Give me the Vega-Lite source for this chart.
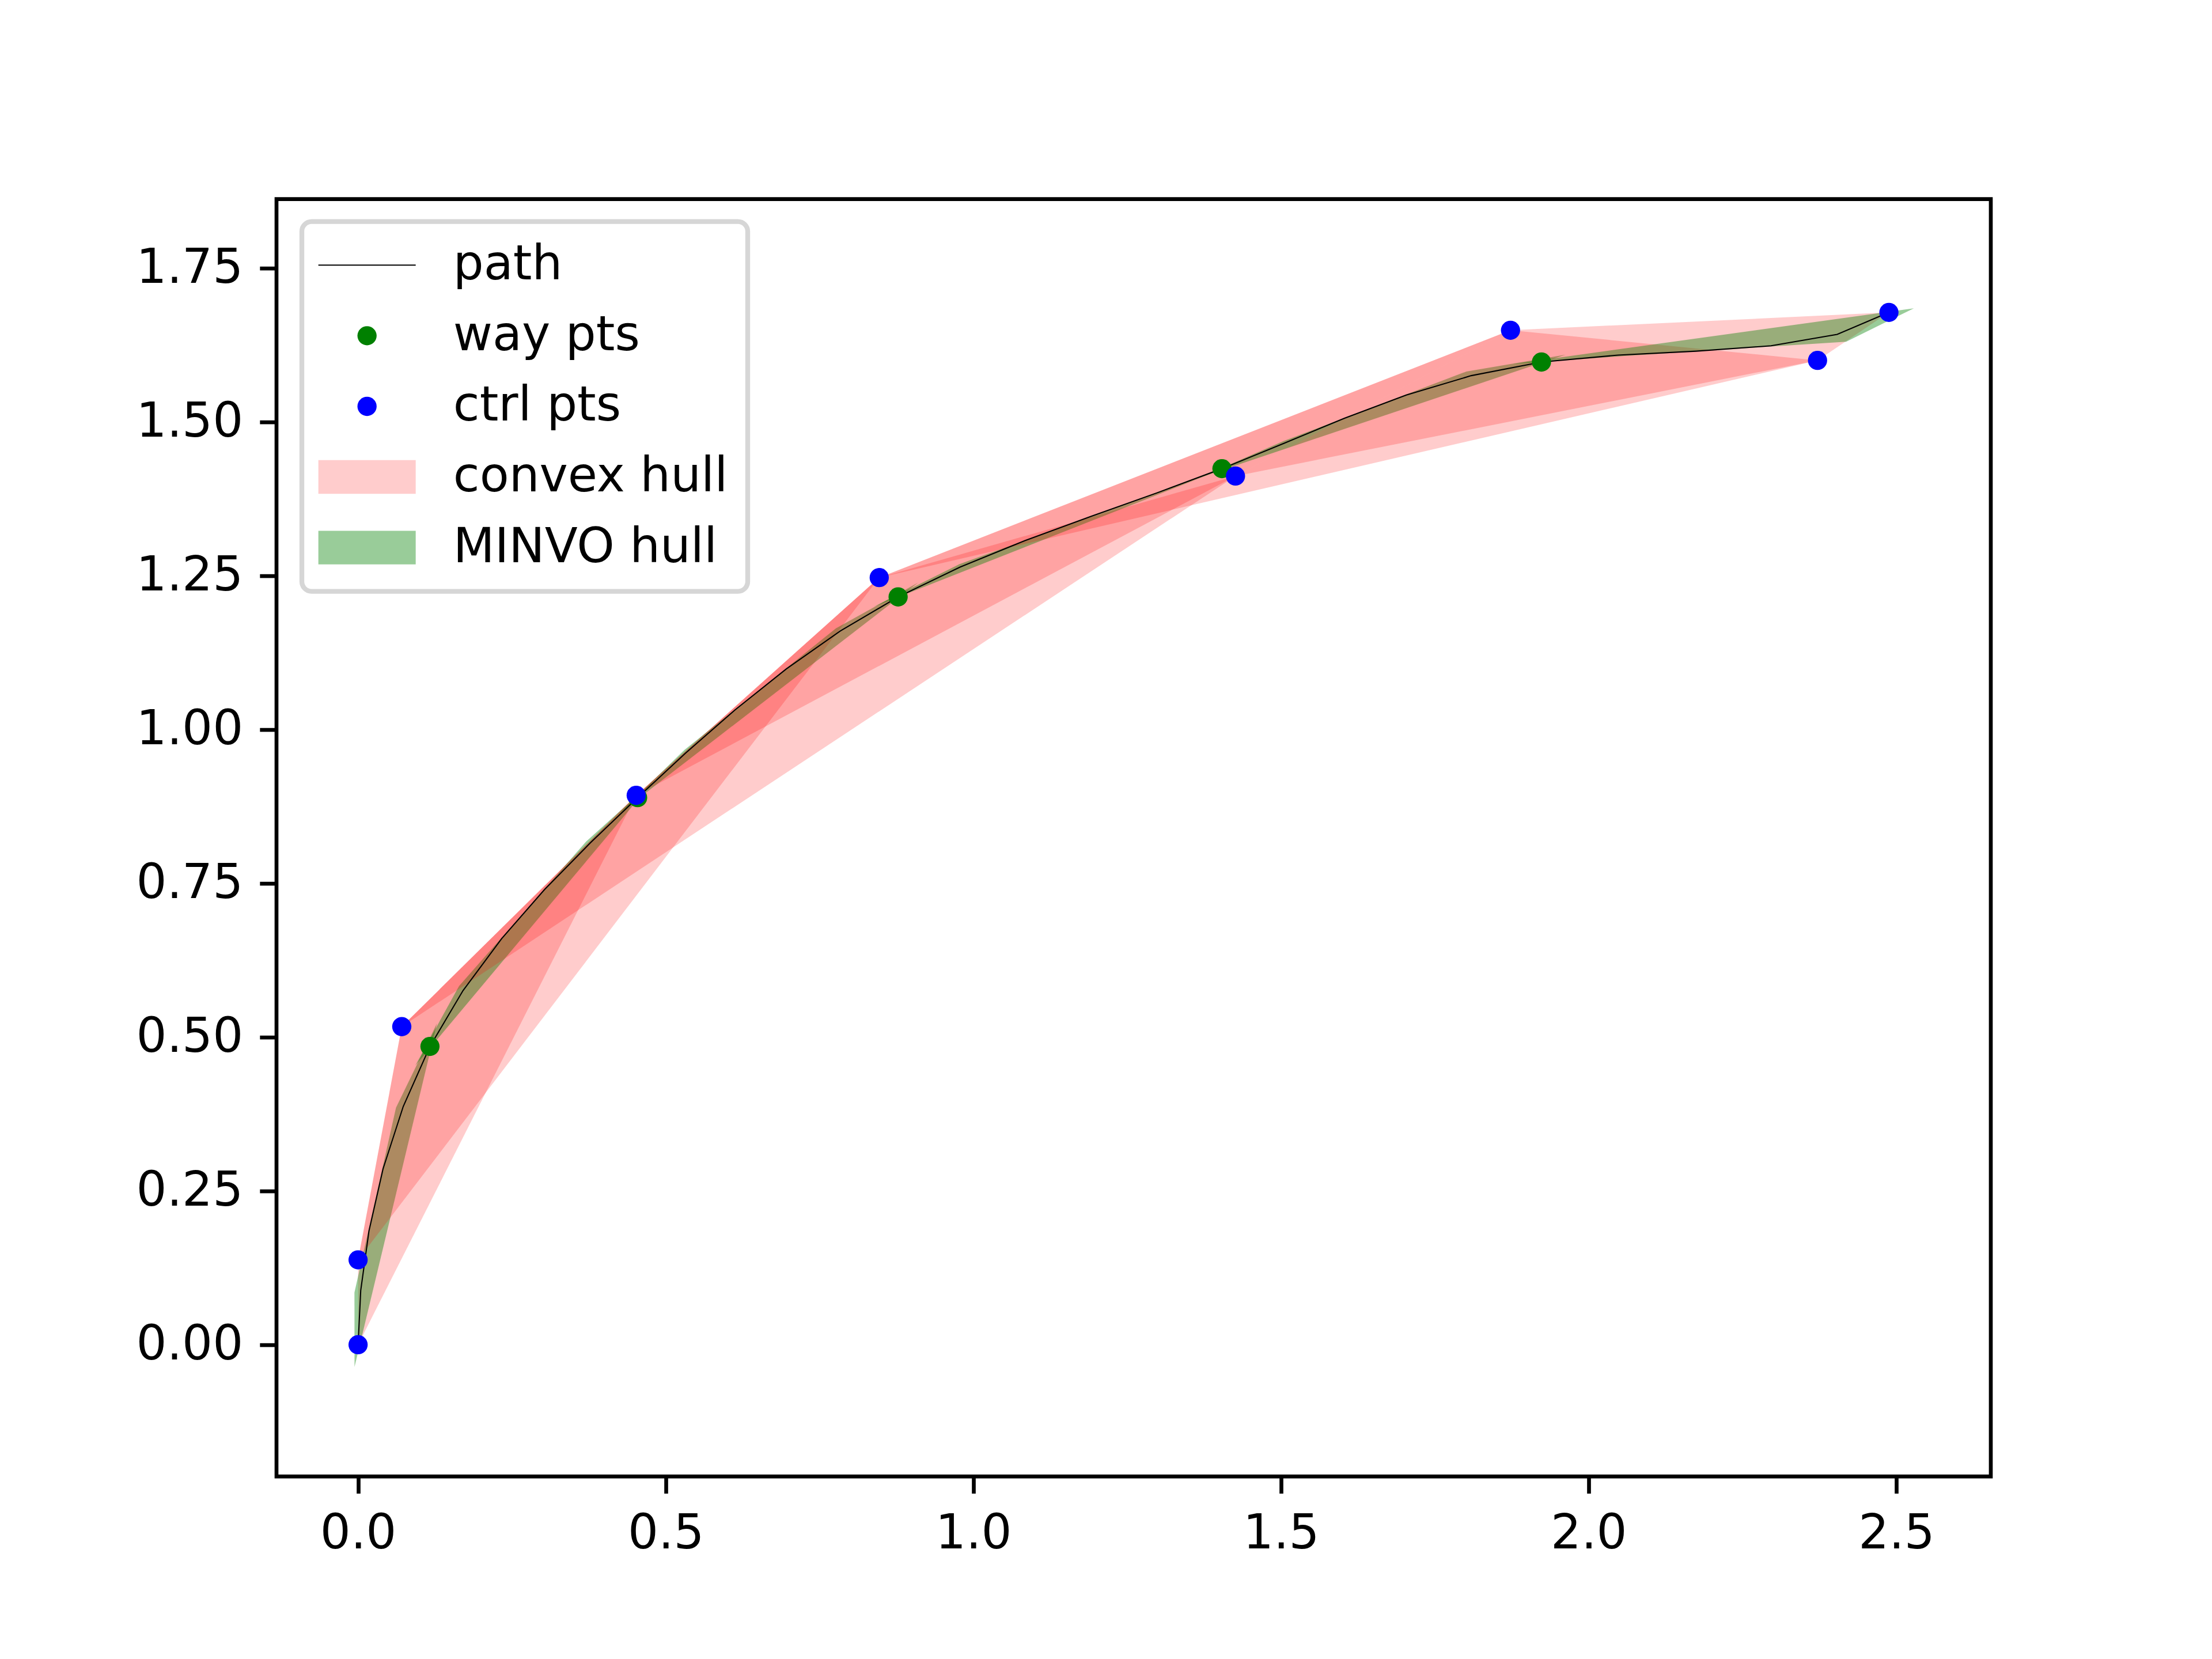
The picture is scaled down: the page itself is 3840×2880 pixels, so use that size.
{
  "$schema": "https://vega.github.io/schema/vega-lite/v6.json",
  "width": 2976,
  "height": 2217.6,
  "autosize": {"type": "none"},
  "padding": {"left": 480, "top": 345.6, "right": 384, "bottom": 316.8},
  "background": "white",
  "datasets": {
    "hulls": [
      {"poly": "01c", "kind": "convex", "i": 0, "x": 0, "y": 0},
      {"poly": "01c", "kind": "convex", "i": 1, "x": 0, "y": 0.138},
      {"poly": "01c", "kind": "convex", "i": 2, "x": 0.071, "y": 0.517},
      {"poly": "01c", "kind": "convex", "i": 3, "x": 0.452, "y": 0.893},
      {"poly": "01m", "kind": "minvo", "i": 0, "x": -0.0058, "y": -0.0362},
      {"poly": "01m", "kind": "minvo", "i": 1, "x": -0.0059, "y": 0.085},
      {"poly": "01m", "kind": "minvo", "i": 2, "x": 0.0616, "y": 0.3853},
      {"poly": "01m", "kind": "minvo", "i": 3, "x": 0.1282, "y": 0.5224},
      {"poly": "02c", "kind": "convex", "i": 0, "x": 0, "y": 0.138},
      {"poly": "02c", "kind": "convex", "i": 1, "x": 0.071, "y": 0.517},
      {"poly": "02c", "kind": "convex", "i": 2, "x": 0.452, "y": 0.893},
      {"poly": "02c", "kind": "convex", "i": 3, "x": 0.847, "y": 1.247},
      {"poly": "02m", "kind": "minvo", "i": 0, "x": 0.0929, "y": 0.4537},
      {"poly": "02m", "kind": "minvo", "i": 1, "x": 0.1641, "y": 0.5831},
      {"poly": "02m", "kind": "minvo", "i": 2, "x": 0.3708, "y": 0.818},
      {"poly": "02m", "kind": "minvo", "i": 3, "x": 0.4816, "y": 0.9181},
      {"poly": "03c", "kind": "convex", "i": 0, "x": 0.071, "y": 0.517},
      {"poly": "03c", "kind": "convex", "i": 1, "x": 0.452, "y": 0.893},
      {"poly": "03c", "kind": "convex", "i": 2, "x": 0.847, "y": 1.247},
      {"poly": "03c", "kind": "convex", "i": 3, "x": 1.426, "y": 1.412},
      {"poly": "03m", "kind": "minvo", "i": 0, "x": 0.4241, "y": 0.8635},
      {"poly": "03m", "kind": "minvo", "i": 1, "x": 0.5305, "y": 0.9669},
      {"poly": "03m", "kind": "minvo", "i": 2, "x": 0.7767, "y": 1.1644},
      {"poly": "03m", "kind": "minvo", "i": 3, "x": 0.9102, "y": 1.2388},
      {"poly": "04c", "kind": "convex", "i": 0, "x": 0.452, "y": 0.893},
      {"poly": "04c", "kind": "convex", "i": 1, "x": 1.426, "y": 1.412},
      {"poly": "04c", "kind": "convex", "i": 2, "x": 1.873, "y": 1.649},
      {"poly": "04c", "kind": "convex", "i": 3, "x": 0.847, "y": 1.247},
      {"poly": "04m", "kind": "minvo", "i": 0, "x": 0.8383, "y": 1.1996},
      {"poly": "04m", "kind": "minvo", "i": 1, "x": 0.9776, "y": 1.2688},
      {"poly": "04m", "kind": "minvo", "i": 2, "x": 1.2975, "y": 1.3854},
      {"poly": "04m", "kind": "minvo", "i": 3, "x": 1.444, "y": 1.4386},
      {"poly": "05c", "kind": "convex", "i": 0, "x": 0.847, "y": 1.247},
      {"poly": "05c", "kind": "convex", "i": 1, "x": 2.372, "y": 1.6},
      {"poly": "05c", "kind": "convex", "i": 2, "x": 1.873, "y": 1.649},
      {"poly": "05m", "kind": "minvo", "i": 0, "x": 1.3667, "y": 1.4092},
      {"poly": "05m", "kind": "minvo", "i": 1, "x": 1.505, "y": 1.4692},
      {"poly": "05m", "kind": "minvo", "i": 2, "x": 1.8011, "y": 1.5818},
      {"poly": "05m", "kind": "minvo", "i": 3, "x": 1.9625, "y": 1.6093},
      {"poly": "06c", "kind": "convex", "i": 0, "x": 1.426, "y": 1.412},
      {"poly": "06c", "kind": "convex", "i": 1, "x": 2.372, "y": 1.6},
      {"poly": "06c", "kind": "convex", "i": 2, "x": 2.488, "y": 1.678},
      {"poly": "06c", "kind": "convex", "i": 3, "x": 1.873, "y": 1.649},
      {"poly": "06m", "kind": "minvo", "i": 0, "x": 1.8768, "y": 1.5941},
      {"poly": "06m", "kind": "minvo", "i": 1, "x": 2.0552, "y": 1.6068},
      {"poly": "06m", "kind": "minvo", "i": 2, "x": 2.4185, "y": 1.6304},
      {"poly": "06m", "kind": "minvo", "i": 3, "x": 2.5286, "y": 1.6847}
    ],
    "path": [
      {"i": 0, "x": 0, "y": 0},
      {"i": 1, "x": 0.0043, "y": 0.0883},
      {"i": 2, "x": 0.0177, "y": 0.185},
      {"i": 3, "x": 0.0406, "y": 0.286},
      {"i": 4, "x": 0.0734, "y": 0.3873},
      {"i": 5, "x": 0.1168, "y": 0.4849},
      {"i": 6, "x": 0.1706, "y": 0.5757},
      {"i": 7, "x": 0.2334, "y": 0.6602},
      {"i": 8, "x": 0.303, "y": 0.7398},
      {"i": 9, "x": 0.3774, "y": 0.8157},
      {"i": 10, "x": 0.4543, "y": 0.8893},
      {"i": 11, "x": 0.5324, "y": 0.9617},
      {"i": 12, "x": 0.6125, "y": 1.0318},
      {"i": 13, "x": 0.6958, "y": 1.0984},
      {"i": 14, "x": 0.7837, "y": 1.1601},
      {"i": 15, "x": 0.8777, "y": 1.2155},
      {"i": 16, "x": 0.9783, "y": 1.264},
      {"i": 17, "x": 1.0838, "y": 1.307},
      {"i": 18, "x": 1.1916, "y": 1.3466},
      {"i": 19, "x": 1.2992, "y": 1.3849},
      {"i": 20, "x": 1.404, "y": 1.424},
      {"i": 21, "x": 1.5045, "y": 1.4651},
      {"i": 22, "x": 1.6033, "y": 1.5061},
      {"i": 23, "x": 1.7037, "y": 1.5438},
      {"i": 24, "x": 1.8092, "y": 1.5752},
      {"i": 25, "x": 1.9233, "y": 1.5973},
      {"i": 26, "x": 2.0474, "y": 1.6086},
      {"i": 27, "x": 2.1747, "y": 1.615},
      {"i": 28, "x": 2.2965, "y": 1.6237},
      {"i": 29, "x": 2.4039, "y": 1.6423},
      {"i": 30, "x": 2.488, "y": 1.678}
    ],
    "pts": [
      {"series": "way pts", "x": 0.1168, "y": 0.4849},
      {"series": "way pts", "x": 0.4543, "y": 0.8893},
      {"series": "way pts", "x": 0.8777, "y": 1.2155},
      {"series": "way pts", "x": 1.404, "y": 1.424},
      {"series": "way pts", "x": 1.9233, "y": 1.5973},
      {"series": "ctrl pts", "x": 0, "y": 0},
      {"series": "ctrl pts", "x": 0, "y": 0.138},
      {"series": "ctrl pts", "x": 0.071, "y": 0.517},
      {"series": "ctrl pts", "x": 0.452, "y": 0.893},
      {"series": "ctrl pts", "x": 0.847, "y": 1.247},
      {"series": "ctrl pts", "x": 1.426, "y": 1.412},
      {"series": "ctrl pts", "x": 1.873, "y": 1.649},
      {"series": "ctrl pts", "x": 2.372, "y": 1.6},
      {"series": "ctrl pts", "x": 2.488, "y": 1.678}
    ]
  },
  "encoding": {
    "x": {
      "field": "x", "type": "quantitative",
      "scale": {"domain": [-0.1326, 2.6536], "nice": false, "zero": false},
      "axis": {"values": [0, 0.5, 1, 1.5, 2, 2.5], "format": ".1f", "title": null}
    },
    "y": {
      "field": "y", "type": "quantitative",
      "scale": {"domain": [-0.2142, 1.8622], "nice": false, "zero": false},
      "axis": {"values": [0, 0.25, 0.5, 0.75, 1, 1.25, 1.5, 1.75], "format": ".2f", "title": null}
    }
  },
  "layer": [
    {
      "data": {"name": "hulls"},
      "mark": {"type": "line", "filled": true, "strokeWidth": 0, "opacity": 1},
      "encoding": {
        "detail": {"field": "poly", "type": "nominal"},
        "order": {"field": "i", "type": "quantitative"},
        "color": {"condition": {"test": "datum.kind === 'minvo'", "value": "#008000"}, "value": "#ff0000"},
        "fillOpacity": {"condition": {"test": "datum.kind === 'minvo'", "value": 0.4}, "value": 0.2}
      }
    },
    {
      "data": {"name": "path"},
      "mark": {"type": "line", "color": "#000000", "strokeWidth": 2.08, "opacity": 1},
      "encoding": {
        "order": {"field": "i", "type": "quantitative"}
      }
    },
    {
      "data": {"name": "pts"},
      "mark": {"type": "point", "filled": true, "opacity": 1, "size": 6400, "strokeWidth": 0},
      "encoding": {
        "color": {
          "field": "series", "type": "nominal",
          "scale": {
            "domain": ["path", "way pts", "ctrl pts", "convex hull", "MINVO hull"],
            "range": ["#000000", "#008000", "#0000ff", "#ffcccc", "#99cc99"]
          },
          "legend": {
            "title": null, "orient": "none", "legendX": 44, "legendY": 39,
            "padding": 34, "rowPadding": 38.6, "symbolOffset": 37.5, "labelOffset": 108,
            "symbolSize": 6400, "symbolStrokeWidth": 0,
            "labelFont": "DejaVu Sans", "labelFontSize": 83.33, "labelColor": "#000000", "labelLimit": 2000,
            "fillColor": "rgba(255,255,255,0.8)", "strokeColor": "#d6d6d6", "cornerRadius": 17
          }
        },
        "shape": {
          "field": "series", "type": "nominal",
          "scale": {
            "domain": ["path", "way pts", "ctrl pts", "convex hull", "MINVO hull"],
            "range": [
              "M-2.1125,-0.026H2.1125V0.026H-2.1125Z",
              "M0.4167,0A0.4167,0.4167,0,1,1,-0.4167,0A0.4167,0.4167,0,1,1,0.4167,0Z",
              "M0.4167,0A0.4167,0.4167,0,1,1,-0.4167,0A0.4167,0.4167,0,1,1,0.4167,0Z",
              "M-2.1125,-0.73H2.1125V0.73H-2.1125Z",
              "M-2.1125,-0.73H2.1125V0.73H-2.1125Z"
            ]
          },
          "legend": {
            "title": null, "orient": "none", "legendX": 44, "legendY": 39,
            "padding": 34, "rowPadding": 38.6, "symbolOffset": 37.5, "labelOffset": 108,
            "symbolSize": 6400, "symbolStrokeWidth": 0,
            "labelFont": "DejaVu Sans", "labelFontSize": 83.33, "labelColor": "#000000", "labelLimit": 2000,
            "fillColor": "rgba(255,255,255,0.8)", "strokeColor": "#d6d6d6", "cornerRadius": 17
          }
        }
      }
    }
  ],
  "config": {
    "view": {"stroke": "#000000", "strokeWidth": 6.67},
    "font": "DejaVu Sans",
    "axis": {
      "labelFont": "DejaVu Sans", "labelFontSize": 83.33, "labelColor": "#000000",
      "tickColor": "#000000", "tickWidth": 6.67, "tickSize": 29.17, "labelPadding": 29.17,
      "domain": false, "grid": false, "labelFlush": false, "labelOverlap": false, "labelLimit": 2000
    },
    "legend": {"strokeWidth": 8.33}
  }
}
